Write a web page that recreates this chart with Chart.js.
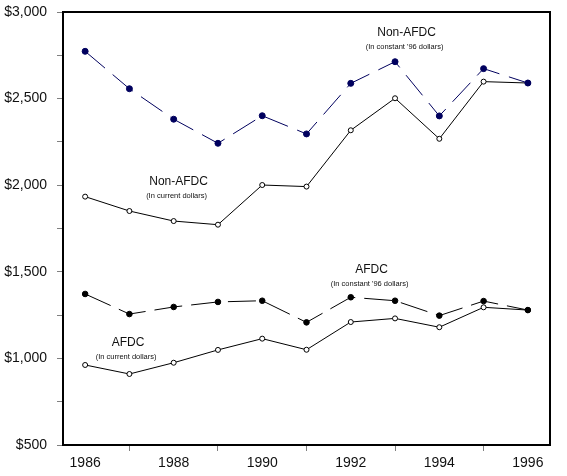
<!DOCTYPE html>
<html>
<head>
<meta charset="utf-8">
<script src="https://cdn.jsdelivr.net/npm/chart.js@4.4.0/dist/chart.umd.min.js"></script>
<style>
  html, body { margin: 0; padding: 0; background: #fff; }
  #wrap { width: 567px; height: 476px; position: relative; }
</style>
</head>
<body>
<div id="wrap"><canvas id="chart"></canvas></div>
<script>
// data
const years = ['1986', '1987', '1988', '1989', '1990', '1991', '1992', '1993', '1994', '1995', '1996'];
const nonAfdcConst = [2773, 2557, 2381, 2242, 2401, 2296, 2588, 2713, 2400, 2673, 2590];
const nonAfdcCurrent = [1934, 1851, 1793, 1772, 2001, 1992, 2317, 2502, 2268, 2598, 2590];
const afdcConst = [1372, 1256, 1297, 1326, 1333, 1208, 1353, 1333, 1247, 1331, 1279];
const afdcCurrent = [962, 910, 975, 1049, 1114, 1050, 1210, 1231, 1180, 1295, 1279];

// series labels, placed in data coordinates (category index, dollars)
const noteTitles = ['Non-AFDC', 'Non-AFDC', 'AFDC', 'AFDC'];
const noteSubs = ["(In constant '96 dollars)", '(In current dollars)', "(In constant '96 dollars)", '(In current dollars)'];
const noteX = [7.26, 2.11, 6.47, 0.97];
const noteY = [2879, 2019, 1510, 1089];

const NAVY = '#00005e';

// box round the plot + the little series labels
const boxAndNotes = {
  id: 'boxAndNotes',
  afterDatasetsDraw(chart) {
    const { ctx, chartArea: a, scales } = chart;
    ctx.save();
    ctx.strokeStyle = '#000';
    ctx.lineWidth = 2;
    ctx.strokeRect(a.left, a.top, a.right - a.left, a.bottom - a.top);

    ctx.fillStyle = '#111';
    ctx.textAlign = 'center';
    ctx.textBaseline = 'middle';
    for (let i = 0; i < noteTitles.length; i++) {
      const x = scales.x.getPixelForValue(noteX[i]);
      const y = scales.y.getPixelForValue(noteY[i]);
      ctx.font = '12px "Liberation Sans", Arial, sans-serif';
      ctx.fillText(noteTitles[i], x, y);
      ctx.font = '7.5px "Liberation Sans", Arial, sans-serif';
      ctx.fillText(noteSubs[i], x - 2, y + 14);
    }
    ctx.restore();
  }
};

const ctx = document.getElementById('chart').getContext('2d');
new Chart(ctx, {
  type: 'line',
  data: {
    labels: years,
    datasets: [
      {
        label: "Non-AFDC (In constant '96 dollars)",
        data: nonAfdcConst,
        borderColor: NAVY,
        borderWidth: 1,
        borderDash: [26, 10],
        pointRadius: 3,
        pointBackgroundColor: NAVY,
        pointBorderColor: NAVY,
        pointBorderWidth: 1,
        tension: 0
      },
      {
        label: 'Non-AFDC (In current dollars)',
        data: nonAfdcCurrent,
        borderColor: '#000',
        borderWidth: 1,
        pointRadius: 2.5,
        pointBackgroundColor: '#fff',
        pointBorderColor: '#000',
        pointBorderWidth: 1,
        tension: 0
      },
      {
        label: "AFDC (In constant '96 dollars)",
        data: afdcConst,
        borderColor: '#000',
        borderWidth: 1,
        borderDash: [28, 9],
        pointRadius: 2.8,
        pointBackgroundColor: '#000',
        pointBorderColor: '#000',
        pointBorderWidth: 1,
        tension: 0
      },
      {
        label: 'AFDC (In current dollars)',
        data: afdcCurrent,
        borderColor: '#000',
        borderWidth: 1,
        pointRadius: 2.5,
        pointBackgroundColor: '#fff',
        pointBorderColor: '#000',
        pointBorderWidth: 1,
        tension: 0
      }
    ]
  },
  options: {
    responsive: true,
    maintainAspectRatio: false,
    animation: false,
    layout: { padding: { top: 12, right: 17, left: 0, bottom: 0 } },
    plugins: {
      legend: { display: false },
      tooltip: { enabled: false }
    },
    scales: {
      x: {
        type: 'category',
        offset: true,
        border: { display: false },
        grid: {
          drawOnChartArea: false,
          drawTicks: true,
          tickLength: 6,
          offset: false,
          color: (c) => (c.index % 2 ? '#808080' : 'rgba(0,0,0,0)')
        },
        ticks: {
          autoSkip: false,
          maxRotation: 0,
          padding: 4,
          color: '#111',
          font: { family: '"Liberation Sans", Arial, sans-serif', size: 14 },
          callback: (val, i) => (i % 2 ? '' : years[i])
        },
        afterFit: (s) => { s.height = 31; s.paddingLeft = 0; s.paddingRight = 0; }
      },
      y: {
        min: 500,
        max: 3000,
        border: { display: false },
        grid: {
          drawOnChartArea: false,
          drawTicks: true,
          tickLength: 6,
          color: '#808080'
        },
        ticks: {
          stepSize: 250,
          autoSkip: false,
          padding: 10,
          color: '#111',
          font: { family: '"Liberation Sans", Arial, sans-serif', size: 14 },
          callback: (v) => (v % 500 === 0 ? '$' + v.toLocaleString('en-US') : '')
        },
        afterFit: (s) => { s.width = 63; s.paddingTop = 0; s.paddingBottom = 0; }
      }
    }
  },
  plugins: [boxAndNotes]
});
</script>
</body>
</html>
